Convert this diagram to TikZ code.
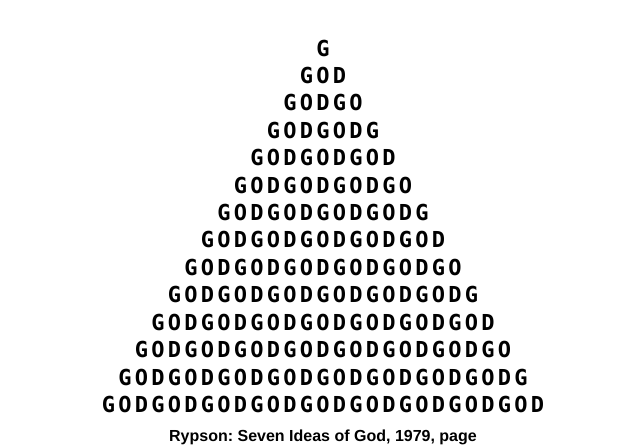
\documentclass[tikz,border=0pt]{standalone}
\usepackage{fontspec}
\usepackage{tikz}
\newfontfamily\godfont[LetterSpace=14.8]{DejaVu Sans Mono}
\newfontfamily\capfont{Liberation Sans}

\begin{document}
\begin{tikzpicture}[x=1pt,y=1pt,node distance=27.42pt,
    godline/.style={inner sep=0pt,font=\godfont\bfseries\fontsize{22}{22}\selectfont},
    caption/.style={inner sep=0pt,font=\capfont\bfseries\frenchspacing\fontsize{16}{16}\selectfont}]
      \useasboundingbox (0,0) rectangle (640,-446);
      \node[godline] (1) at (323,-48) {G};
      \node[godline,below of=1] (2) {GOD};
      \node[godline,below of=2] (3) {GODGO};
      \node[godline,below of=3] (4) {GODGODG};
      \node[godline,below of=4] (5) {GODGODGOD};
      \node[godline,below of=5] (6) {GODGODGODGO};
      \node[godline,below of=6] (7) {GODGODGODGODG};
      \node[godline,below of=7] (8) {GODGODGODGODGOD};
      \node[godline,below of=8] (9) {GODGODGODGODGODGO};
      \node[godline,below of=9] (10) {GODGODGODGODGODGODG};
      \node[godline,below of=10] (11) {GODGODGODGODGODGODGOD};
      \node[godline,below of=11] (12) {GODGODGODGODGODGODGODGO};
      \node[godline,below of=12] (13) {GODGODGODGODGODGODGODGODG};
      \node[godline,below of=13] (14) {GODGODGODGODGODGODGODGODGOD};

      %% caption under the triangle
      \node[caption,below of=14,yshift=-6pt] (15) {Rypson: Seven Ideas of God, 1979, page};
    \end{tikzpicture}
\end{document}
